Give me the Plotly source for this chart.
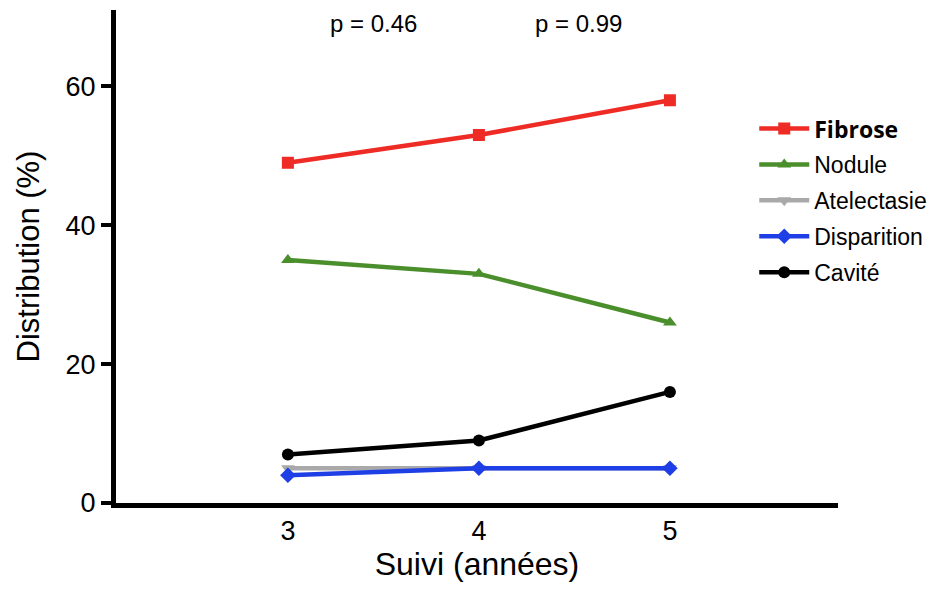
import plotly.graph_objects as go

years = [3, 4, 5]
fibrose = [49, 53, 58]
nodule = [35, 33, 26]
atelectasie = [5, 5, 5]
disparition = [4, 5, 5]
cavite = [7, 9, 16]
p_labels = ["p = 0.46", "p = 0.99"]
p_x = [3.45, 4.52]

series = [
    ("<span style='font-family:Open Sans'><b>Fibrose</b></span>", fibrose, "#EE2B24", "square"),
    ("Nodule", nodule, "#4B8E2C", "triangle-up"),
    ("Atelectasie", atelectasie, "#A9A9A9", "triangle-down"),
    ("Disparition", disparition, "#1E3FE6", "diamond"),
    ("Cavité", cavite, "#000000", "circle"),
]

fig = go.Figure()
for i, (name, vals, col, sym) in enumerate(series):
    fig.add_trace(go.Scatter(
        x=years, y=vals, name=name, mode="lines+markers",
        legendgroup=f"g{i}",
        line=dict(color=col, width=4.5),
        marker=dict(symbol=sym, size=12, color=col),
    ))

for lab, px in zip(p_labels, p_x):
    fig.add_annotation(x=px, y=0.972, xref="x", yref="paper", text=lab,
                       showarrow=False, yanchor="middle", xanchor="center",
                       font=dict(size=24, color="#000"))

fig.update_layout(
    width=939, height=595,
    margin=dict(l=108, r=109, t=2, b=100),
    paper_bgcolor="white", plot_bgcolor="white",
    font=dict(family="Liberation Sans, Arial, sans-serif", color="#000"),
    legend=dict(x=0.884, y=0.803, xanchor="left", yanchor="top",
                font=dict(size=23), tracegroupgap=3, itemwidth=50,
                bgcolor="rgba(0,0,0,0)"),
    xaxis=dict(range=[2.1, 5.88], tickvals=years, showgrid=False, zeroline=False,
               showline=True, linecolor="#000", linewidth=5,
               ticks="", tickfont=dict(size=27),
               title=dict(text="Suivi (années)", font=dict(size=32), standoff=0)),
    yaxis=dict(range=[0, 71], tickvals=[0, 20, 40, 60], showgrid=False, zeroline=False,
               showline=True, linecolor="#000", linewidth=5,
               ticks="outside", ticklen=10, tickwidth=4, tickcolor="#000",
               tickfont=dict(size=27),
               title=dict(text="Distribution (%)", font=dict(size=31), standoff=18)),
)

fig.write_html("out.html")
